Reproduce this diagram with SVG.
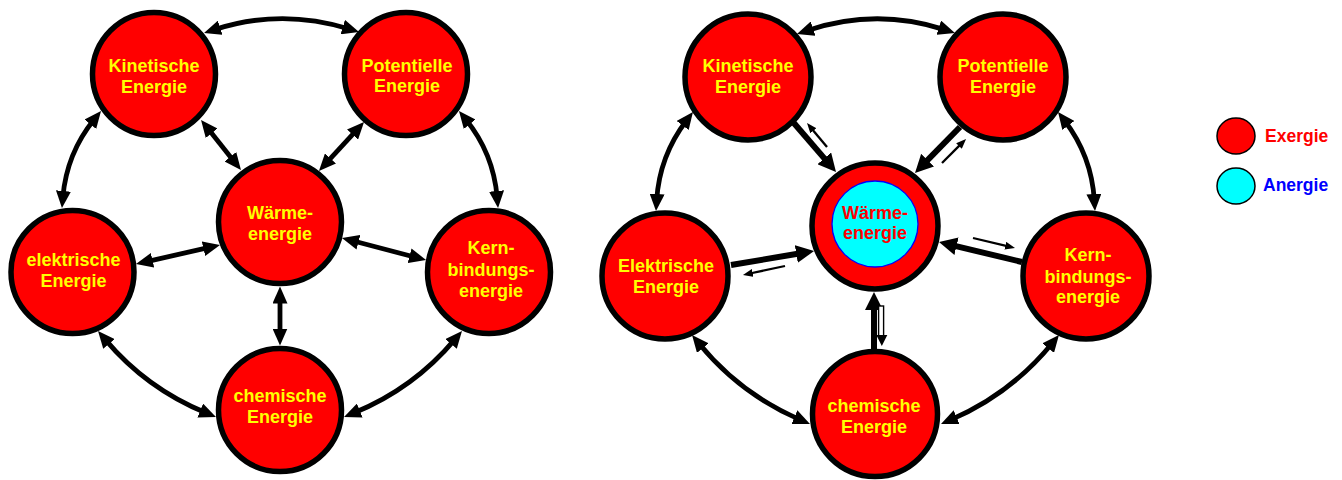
<svg xmlns="http://www.w3.org/2000/svg" width="1342" height="480" viewBox="0 0 1342 480">
<defs>
<marker id="a" markerUnits="userSpaceOnUse" viewBox="0 0 17 15" markerWidth="17" markerHeight="15" refX="6" refY="7.5" orient="auto-start-reverse"><path d="M0,0L17,7.5L0,15z" fill="#000"/></marker>
<marker id="b" markerUnits="userSpaceOnUse" viewBox="0 0 18 18" markerWidth="18" markerHeight="18" refX="6" refY="9" orient="auto-start-reverse"><path d="M0,0L18,9L0,18z" fill="#000"/></marker>
<marker id="c" markerUnits="userSpaceOnUse" viewBox="0 0 10 8" markerWidth="10" markerHeight="8" refX="3" refY="4" orient="auto-start-reverse"><path d="M0,0L10,4L0,8z" fill="#000"/></marker>
</defs>
<style>
.n{fill:#f00;stroke:#000;stroke-width:5.5}
.t{font-family:"Liberation Sans",Arial,sans-serif;font-weight:bold;font-size:18px;fill:#ff0;text-anchor:middle}
.tr{fill:#f00}
.cn{fill:none;stroke:#000;stroke-width:4.8}
.d{marker-start:url(#a);marker-end:url(#a)}
.k{stroke-width:6;marker-end:url(#b)}
.s{stroke-width:2.3;marker-end:url(#c)}
.lg{font-family:"Liberation Sans",Arial,sans-serif;font-weight:bold;font-size:17.5px}
</style>
<rect width="1342" height="480" fill="#fff"/>

<!-- Left diagram nodes -->
<g id="l-kinetisch"><circle class="n" cx="154" cy="74" r="61.5"/><text class="t" x="154" y="72">Kinetische</text><text class="t" x="154" y="92.5">Energie</text></g>
<g id="l-potentiell"><circle class="n" cx="406" cy="74" r="61.5"/><text class="t" x="407" y="71.5">Potentielle</text><text class="t" x="407" y="92">Energie</text></g>
<g id="l-waerme"><circle class="n" cx="280" cy="222" r="61.5"/><text class="t" x="280" y="219">Wärme-</text><text class="t" x="280" y="239.5">energie</text></g>
<g id="l-elektrisch"><circle class="n" cx="72.5" cy="272" r="61.5"/><text class="t" x="73.5" y="266">elektrische</text><text class="t" x="73.5" y="287">Energie</text></g>
<g id="l-kern"><circle class="n" cx="489" cy="272" r="61.5"/><text class="t" x="491" y="254">Kern-</text><text class="t" x="491" y="275.5">bindungs-</text><text class="t" x="491" y="296.5">energie</text></g>
<g id="l-chemisch"><circle class="n" cx="280" cy="410" r="61.5"/><text class="t" x="280" y="401.5">chemische</text><text class="t" x="280" y="422.5">Energie</text></g>

<!-- Right diagram nodes -->
<g id="r-kinetisch"><circle class="n" cx="748" cy="77" r="63"/><text class="t" x="748" y="72">Kinetische</text><text class="t" x="748" y="93">Energie</text></g>
<g id="r-potentiell"><circle class="n" cx="1003" cy="77" r="63"/><text class="t" x="1003" y="72">Potentielle</text><text class="t" x="1003" y="93">Energie</text></g>
<g id="r-waerme"><circle class="n" cx="875" cy="226" r="63"/><circle cx="875" cy="224" r="43" fill="#0ff" stroke="#00f" stroke-width="1.3"/><text class="t tr" x="875" y="219.3">Wärme-</text><text class="t tr" x="875" y="239">energie</text></g>
<g id="r-elektrisch"><circle class="n" cx="665" cy="276" r="63"/><text class="t" x="666" y="272">Elektrische</text><text class="t" x="666" y="293">Energie</text></g>
<g id="r-kern"><circle class="n" cx="1086" cy="276" r="63"/><text class="t" x="1088" y="261">Kern-</text><text class="t" x="1088" y="282.5">bindungs-</text><text class="t" x="1088" y="303">energie</text></g>
<g id="r-chemisch"><circle class="n" cx="875" cy="414" r="62.5"/><text class="t" x="874" y="412">chemische</text><text class="t" x="874" y="433">Energie</text></g>

<!-- Legend -->
<g id="legend-exergie"><ellipse cx="1236" cy="136" rx="19" ry="18" fill="#f00" stroke="#000" stroke-width="1.5"/><text class="lg" x="1265" y="142" fill="#f00">Exergie</text></g>
<g id="legend-anergie"><ellipse cx="1236" cy="186" rx="19" ry="18" fill="#0ff" stroke="#000" stroke-width="1.5"/><text class="lg" x="1263" y="191" fill="#00f">Anergie</text></g>

<g id="connectors">
<!-- left -->
<path class="cn d" d="M214.5,29.6Q281,8 348.5,28.8"/>
<path class="cn d" d="M94.1,119.6Q66.7,153.5 62.9,197"/>
<path class="cn d" d="M465.9,119.6Q493.3,153.5 497.1,197"/>
<path class="cn d" d="M105.1,339.4Q146.4,388.5 205.8,412.8"/>
<path class="cn d" d="M454.9,339.4Q413.6,388.5 354.2,412.8"/>
<path class="cn d" d="M207.9,128.6L234.1,161.4"/>
<path class="cn d" d="M356.6,130.1L326.4,162.9"/>
<path class="cn d" d="M146.7,261.6L209.3,247.4"/>
<path class="cn d" d="M352.6,240.8L415.4,257.2"/>
<path class="cn d" d="M280,297.5L280,334.5"/>
<!-- right arcs -->
<path class="cn d" d="M807.4,30.5Q876,7.5 944.5,29.6"/>
<path class="cn d" d="M686.3,120.7Q659.5,155.9 656.7,200"/>
<path class="cn d" d="M1064.7,120.7Q1091.5,155.9 1094.3,200"/>
<path class="cn d" d="M699,343.5Q740.2,393.9 799.9,419.6"/>
<path class="cn d" d="M1052,343.5Q1010.8,393.9 951.1,419.6"/>
<!-- right thick/thin pairs -->
<path class="cn k" d="M793,122L828.2,162.9"/>
<path class="cn s" d="M827,147L811.5,128.4"/>
<path class="cn k" d="M960,127L923.4,164.4"/>
<path class="cn s" d="M942,163L961.1,143.9"/>
<path class="cn k" d="M731,265L802.2,253"/>
<path class="cn s" d="M785,266L749.8,273.5"/>
<path class="cn k" d="M1022,262L950.7,244.8"/>
<path class="cn s" d="M973,238L1008.2,246.4"/>
<path class="cn k" d="M874,352L874,304"/>
<rect x="878.6" y="306" width="5" height="30" fill="#fff" stroke="#000" stroke-width="1.4"/>
<path d="M876.3,335L887.3,335L881.8,346z" fill="#000"/>
</g>
</svg>
